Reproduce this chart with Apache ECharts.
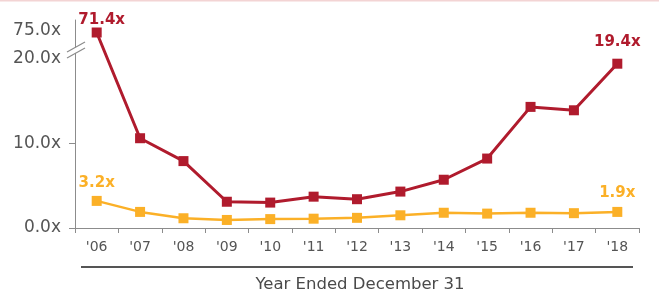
<!DOCTYPE html>
<html>
<head>
<meta charset="utf-8">
<script src="https://cdn.jsdelivr.net/npm/echarts@6/dist/echarts.min.js"></script>
<style>
html,body{margin:0;padding:0;background:#fff;}
#chart{width:659px;height:298px;}
</style>
</head>
<body>
<div id="chart"></div>
<script>
// ---- data ----
const years = ["'06","'07","'08","'09","'10","'11","'12","'13","'14","'15","'16","'17","'18"];
const redValues = [71.4, 10.6, 7.9, 3.1, 3.0, 3.7, 3.4, 4.3, 5.7, 8.2, 14.3, 13.9, 19.4];
const orangeValues = [3.2, 1.9, 1.15, 0.95, 1.05, 1.1, 1.2, 1.5, 1.8, 1.7, 1.8, 1.75, 1.9];
const yTickValues = [0, 10, 20, 75];
const axisTitle = 'Year Ended December 31';

// ---- broken-axis transform (values above 20 are compressed) ----
const BREAK = 20, K = 0.06;
const fwd = v => v <= BREAK ? v : BREAK + (v - BREAK) * K;
const inv = v => v <= BREAK + 1e-9 ? v : BREAK + (v - BREAK) / K;

const RED = '#B01B2D', ORANGE = '#FBB027', GRAY = '#555555';
const FONT = '"DejaVu Sans", Verdana, sans-serif';

function buildData(vals, color, dists) {
  const last = vals.length - 1;
  return vals.map((v, i) => {
    const item = { value: fwd(v) };
    if (i === 0 || i === last) {
      item.label = {
        show: true, position: 'top',
        distance: i === 0 ? dists[0] : dists[1],
        offset: i === 0 ? dists[2] : [0, 0],
        formatter: v.toFixed(1) + 'x',
        color: color, fontSize: 15, fontWeight: 'bold',
        fontFamily: FONT
      };
    }
    return item;
  });
}

const chart = echarts.init(document.getElementById('chart'), null, { renderer: 'canvas' });
chart.setOption({
  animation: false,
  backgroundColor: '#fff',
  grid: { left: 75, right: 20, top: 20, bottom: 70 },
  xAxis: {
    type: 'category',
    data: years,
    boundaryGap: true,
    axisLine: { lineStyle: { color: '#8c8c8c', width: 1 } },
    axisTick: { show: true, length: 5, lineStyle: { color: '#8c8c8c' } },
    axisLabel: { color: GRAY, fontSize: 14, margin: 12, fontFamily: FONT }
  },
  yAxis: {
    type: 'value',
    min: 0,
    max: 24.56,
    splitLine: { show: false },
    axisLine: { show: true, lineStyle: { color: '#8c8c8c', width: 1 } },
    axisTick: { show: true, length: 6, lineStyle: { color: '#8c8c8c' }, customValues: [0, 10] },
    axisLabel: {
      color: GRAY, fontSize: 17, margin: 14,
      fontFamily: FONT,
      customValues: yTickValues.map(fwd),
      formatter: v => inv(v).toFixed(1) + 'x'
    }
  },
  series: [
    {
      name: 'Orange',
      type: 'line',
      data: buildData(orangeValues, ORANGE, [5, 6, [0, 0]]),
      symbol: 'rect', symbolSize: 10,
      lineStyle: { color: ORANGE, width: 2.5 },
      itemStyle: { color: ORANGE },
      z: 2
    },
    {
      name: 'Red',
      type: 'line',
      data: buildData(redValues, RED, [0, 9, [5, 0]]),
      symbol: 'rect', symbolSize: 10,
      lineStyle: { color: RED, width: 3 },
      itemStyle: { color: RED },
      z: 3
    }
  ],
  graphic: [
    { type: 'rect', shape: { x: 0, y: 0, width: 659, height: 1.5 }, style: { fill: '#f3d4d4' } },
    { type: 'polygon', shape: { points: [[68, 52], [85, 42], [84, 48], [67, 58]] }, style: { fill: '#fff' }, z: 100 },
    { type: 'line', shape: { x1: 67, y1: 52, x2: 85, y2: 42 }, style: { stroke: '#8c8c8c', lineWidth: 1.2 }, z: 101 },
    { type: 'line', shape: { x1: 67, y1: 58, x2: 85, y2: 48 }, style: { stroke: '#8c8c8c', lineWidth: 1.2 }, z: 101 },
    { type: 'line', shape: { x1: 81, y1: 267, x2: 633, y2: 267 }, style: { stroke: '#555', lineWidth: 2 } },
    { type: 'text', x: 360, y: 285, style: { text: axisTitle, fill: '#4a4a4a', fontSize: 16.5, fontFamily: FONT, align: 'center', verticalAlign: 'middle' } }
  ]
});
</script>
</body>
</html>
